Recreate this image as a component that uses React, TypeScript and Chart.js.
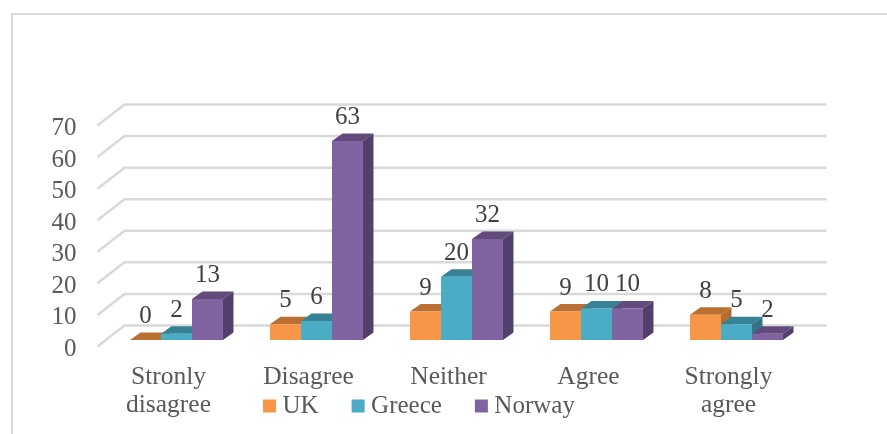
import React, { useEffect, useRef } from "react";
import { Chart, registerables } from "chart.js";

Chart.register(...registerables);

const categories = [["Stronly", "disagree"], "Disagree", "Neither", "Agree", ["Strongly", "agree"]];
const ukValues = [0, 5, 9, 9, 8];
const greeceValues = [2, 6, 20, 10, 5];
const norwayValues = [13, 63, 32, 10, 2];

const FONT = "'Liberation Serif', serif";
const FONT_SIZE = 25;
const CATEGORY_FONT_SIZE = 25.5;
const DX = 10.5;
const DY = 7.5;

const palette = [
  { front: "#f79646", top: "#b97032", side: "#b46c30" },
  { front: "#4bacc6", top: "#378195", side: "#327485" },
  { front: "#8064a2", top: "#634a7c", side: "#533f6b" },
];

const wall3d = {
  id: "wall3d",
  beforeDatasetsDraw(chart: any) {
    const { ctx, chartArea, scales } = chart;
    const { left, right } = chartArea;
    ctx.save();
    ctx.strokeStyle = "#d9d9d9";
    ctx.lineWidth = 2.5;
    scales.y.ticks.forEach((_: any, i: number) => {
      const y = scales.y.getPixelForTick(i);
      ctx.beginPath();
      ctx.moveTo(left - 9, y + 6.5);
      ctx.lineTo(left + 18, y - 14.5);
      ctx.lineTo(right + 20, y - 14.5);
      ctx.stroke();
    });
    // top and side faces, left to right, so nearer faces overlap correctly
    const metas = chart.data.datasets.map((_: any, i: number) => chart.getDatasetMeta(i));
    chart.data.labels.forEach((_: any, c: number) => {
      metas.forEach((meta: any, d: number) => {
        const b = meta.data[c];
        const x0 = b.x - b.width / 2;
        const x1 = b.x + b.width / 2;
        ctx.fillStyle = palette[d].top;
        ctx.beginPath();
        ctx.moveTo(x0, b.y);
        ctx.lineTo(x0 + DX, b.y - DY);
        ctx.lineTo(x1 + DX, b.y - DY);
        ctx.lineTo(x1, b.y);
        ctx.closePath();
        ctx.fill();
        ctx.fillStyle = palette[d].side;
        ctx.beginPath();
        ctx.moveTo(x1, b.y);
        ctx.lineTo(x1 + DX, b.y - DY);
        ctx.lineTo(x1 + DX, b.base - DY);
        ctx.lineTo(x1, b.base);
        ctx.closePath();
        ctx.fill();
      });
    });
    ctx.restore();
  },
  afterDatasetsDraw(chart: any) {
    const { ctx } = chart;
    ctx.save();
    ctx.fillStyle = "#404040";
    ctx.font = `${FONT_SIZE}px ${FONT}`;
    ctx.textAlign = "center";
    ctx.textBaseline = "middle";
    chart.data.datasets.forEach((ds: any, d: number) => {
      chart.getDatasetMeta(d).data.forEach((b: any, c: number) => {
        ctx.fillText(String(ds.data[c]), b.x, b.y - 23.5);
      });
    });
    ctx.restore();
  },
};

const placeLegend = {
  id: "placeLegend",
  afterLayout(chart: any) {
    const legend = chart.legend;
    const padding = legend.options.labels.padding;
    legend.left = 269 - padding;
    legend.right = 887;
    legend.top = 406 - FONT_SIZE / 2 - padding;
    legend.bottom = 434;
  },
};

export default function App() {
  const ref = useRef<HTMLCanvasElement>(null);
  useEffect(() => {
    const chart = new Chart(ref.current as HTMLCanvasElement, {
      type: "bar",
      data: {
        labels: categories,
        datasets: [
          { label: "UK", data: ukValues, backgroundColor: palette[0].front },
          { label: "Greece", data: greeceValues, backgroundColor: palette[1].front },
          { label: "Norway", data: norwayValues, backgroundColor: palette[2].front },
        ],
      },
      plugins: [wall3d, placeLegend],
      options: {
        responsive: false,
        animation: false,
        layout: { padding: { top: 119, right: 80.5, left: 0, bottom: 0 } },
        datasets: { bar: { categoryPercentage: 0.664, barPercentage: 1 } },
        plugins: {
          tooltip: { enabled: false },
          title: { display: false },
          legend: {
            position: "bottom",
            align: "start",
            maxHeight: 1,
            labels: {
              boxWidth: 1,
              boxHeight: 1,
              padding: 39,
              color: "#595959",
              font: { family: FONT, size: FONT_SIZE },
              generateLabels(chart: any) {
                return Chart.defaults.plugins.legend.labels.generateLabels(chart).map((item: any) => ({
                  ...item,
                  strokeStyle: item.fillStyle,
                  lineWidth: 12,
                }));
              },
            },
          },
        },
        scales: {
          x: {
            grid: { display: false },
            border: { display: false },
            afterFit(scale: any) {
              scale.height = 93;
            },
            ticks: {
              autoSkip: false,
              maxRotation: 0,
              minRotation: 0,
              padding: 15,
              labelOffset: -8,
              color: "#595959",
              font: { family: FONT, size: CATEGORY_FONT_SIZE, lineHeight: 1.1 },
            },
          },
          y: {
            min: 0,
            max: 70,
            grid: { display: false },
            border: { display: false },
            afterFit(scale: any) {
              scale.width = 106.5;
            },
            ticks: {
              autoSkip: false,
              stepSize: 10,
              padding: 22,
              labelOffset: 9.5,
              color: "#595959",
              font: { family: FONT, size: FONT_SIZE },
            },
          },
        },
      },
    } as any);
    return () => chart.destroy();
  }, []);
  return (
    <div style={{ position: "fixed", left: 0, top: 0, width: 887, height: 434, background: "#fff", overflow: "hidden" }}>
      <div
        style={{
          position: "absolute",
          left: 10.5,
          top: 13,
          width: 900,
          height: 500,
          borderLeft: "2px solid #d9d9d9",
          borderTop: "2px solid #d9d9d9",
        }}
      />
      <canvas ref={ref} width={887} height={434} style={{ position: "absolute", left: 0, top: 0 }} />
    </div>
  );
}
